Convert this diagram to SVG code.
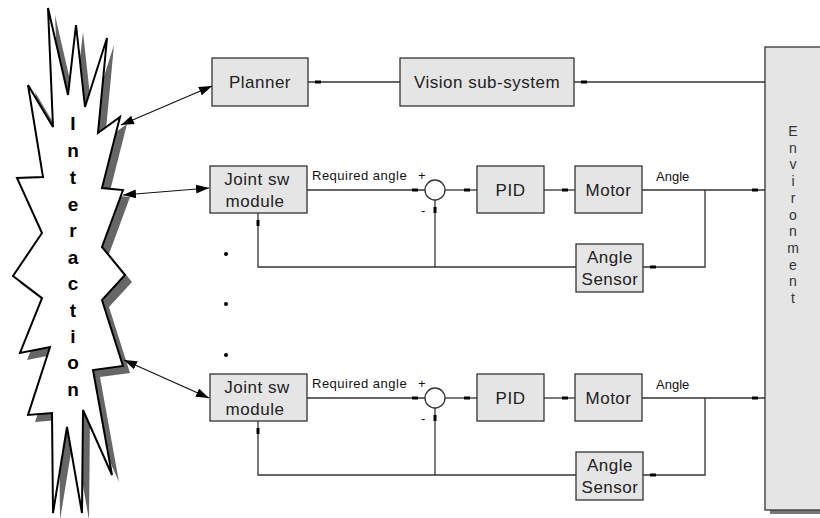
<svg xmlns="http://www.w3.org/2000/svg" width="820" height="518" viewBox="0 0 820 518">
<style>
.box{fill:#e5e5e5;stroke:#333;stroke-width:1.3}
.lbl{font-family:"Liberation Sans",Arial,sans-serif;font-size:17px;fill:#222;text-anchor:middle;letter-spacing:0.5px}
.sm{font-family:"Liberation Sans",Arial,sans-serif;font-size:13px;fill:#111}
.wire{fill:none;stroke:#333;stroke-width:1.3}
.arr{fill:none;stroke:#111;stroke-width:1.2}
.inter{font-family:"Liberation Sans",Arial,sans-serif;font-size:19px;font-weight:bold;fill:#000;text-anchor:middle}
.env{font-family:"Liberation Sans",Arial,sans-serif;font-size:14px;fill:#333;text-anchor:middle}
</style>
<defs>
<marker id="tab" markerUnits="userSpaceOnUse" viewBox="0 0 14 4" markerWidth="14" markerHeight="4" refX="14" refY="2" orient="auto">
<rect x="1" y="0.5" width="6" height="3" fill="#000"/>
</marker>
<marker id="ah" markerUnits="userSpaceOnUse" viewBox="0 0 13 9" markerWidth="13" markerHeight="9" refX="13" refY="4.5" orient="auto-start-reverse">
<path d="M0,0 L13,4.5 L0,9 z" fill="#000"/>
</marker>
</defs>

<g id="interaction">
<polygon transform="translate(7,7)" fill="#666" points="48,8 68,95 76,25 85,107 107,38 98,133 120,117 102,188 123,190 102,247 125,275 102,300 123,366 93,370 112,475 83,410 82,513 67,427 53,513 52,413 28,415 50,347 20,353 42,298 13,276 42,233 17,178 43,177 28,85 53,127"/>
<polygon fill="#fff" stroke="#000" stroke-width="2" stroke-linejoin="miter" points="48,8 68,95 76,25 85,107 107,38 98,133 120,117 102,188 123,190 102,247 125,275 102,300 123,366 93,370 112,475 83,410 82,513 67,427 53,513 52,413 28,415 50,347 20,353 42,298 13,276 42,233 17,178 43,177 28,85 53,127"/>
<text class="inter" x="73" y="130">I</text>
<text class="inter" x="73" y="157">n</text>
<text class="inter" x="73" y="184">t</text>
<text class="inter" x="73" y="211">e</text>
<text class="inter" x="73" y="237">r</text>
<text class="inter" x="73" y="264">a</text>
<text class="inter" x="73" y="290">c</text>
<text class="inter" x="73" y="317">t</text>
<text class="inter" x="73" y="343">i</text>
<text class="inter" x="73" y="369">o</text>
<text class="inter" x="73" y="396">n</text>
</g>

<g id="environment">
<rect x="770" y="509" width="60" height="5" fill="#777"/>
<rect class="box" x="765" y="47" width="70" height="463"/>
<text class="env" x="793" y="136">E</text>
<text class="env" x="793" y="152.7">n</text>
<text class="env" x="793" y="169.4">v</text>
<text class="env" x="793" y="186.1">i</text>
<text class="env" x="793" y="202.8">r</text>
<text class="env" x="793" y="219.5">o</text>
<text class="env" x="793" y="236.2">n</text>
<text class="env" x="793" y="252.9">m</text>
<text class="env" x="793" y="269.6">e</text>
<text class="env" x="793" y="286.3">n</text>
<text class="env" x="793" y="303">t</text>
</g>

<g id="planner"><rect class="box" x="212" y="58" width="96" height="48"/><text class="lbl" x="260" y="88">Planner</text></g>
<g id="vision"><rect class="box" x="400" y="58" width="174" height="48"/><text class="lbl" x="487" y="88">Vision sub-system</text></g>

<g id="joint1"><rect class="box" x="210" y="166" width="97" height="47"/><text class="lbl" x="257" y="185">Joint sw</text><text class="lbl" x="255" y="207">module</text></g>
<g id="sum1"><circle cx="435" cy="190" r="10" fill="#fff" stroke="#333" stroke-width="1.3"/></g>
<g id="pid1"><rect class="box" x="477" y="166" width="67" height="47"/><text class="lbl" x="510.5" y="196">PID</text></g>
<g id="motor1"><rect class="box" x="575" y="166" width="67" height="47"/><text class="lbl" x="608.5" y="196">Motor</text></g>
<g id="sensor1"><rect class="box" x="576" y="244" width="67" height="48"/><text class="lbl" x="610" y="263">Angle</text><text class="lbl" x="610" y="285">Sensor</text></g>

<g id="joint2"><rect class="box" x="210" y="374" width="97" height="47"/><text class="lbl" x="257" y="393">Joint sw</text><text class="lbl" x="255" y="415">module</text></g>
<g id="sum2"><circle cx="435" cy="398" r="10" fill="#fff" stroke="#333" stroke-width="1.3"/></g>
<g id="pid2"><rect class="box" x="477" y="374" width="67" height="47"/><text class="lbl" x="510.5" y="404">PID</text></g>
<g id="motor2"><rect class="box" x="575" y="374" width="67" height="47"/><text class="lbl" x="608.5" y="404">Motor</text></g>
<g id="sensor2"><rect class="box" x="576" y="452" width="67" height="48"/><text class="lbl" x="610" y="471">Angle</text><text class="lbl" x="610" y="493">Sensor</text></g>

<g id="labels">
<text class="sm" x="312" y="180" letter-spacing="0.5">Required angle</text>
<text class="sm" x="418" y="180">+</text>
<text class="sm" x="421" y="215">-</text>
<text class="sm" x="656" y="181">Angle</text>
<text class="sm" x="312" y="388" letter-spacing="0.5">Required angle</text>
<text class="sm" x="418" y="388">+</text>
<text class="sm" x="421" y="423">-</text>
<text class="sm" x="656" y="389">Angle</text>
<circle cx="226" cy="254" r="2" fill="#000"/>
<circle cx="226" cy="304" r="2" fill="#000"/>
<circle cx="226" cy="355" r="2" fill="#000"/>
</g>

<g id="connectors">
<path class="wire" marker-end="url(#tab)" d="M400,82 H308"/>
<path class="wire" marker-end="url(#tab)" d="M765,82 H574"/>

<path class="wire" marker-end="url(#tab)" d="M307,190 H425"/>
<path class="wire" marker-end="url(#tab)" d="M445,190 H477"/>
<path class="wire" marker-end="url(#tab)" d="M544,190 H575"/>
<path class="wire" marker-end="url(#tab)" d="M642,190 H765"/>
<path class="wire" marker-end="url(#tab)" d="M705,190 V267 H643"/>
<path class="wire" marker-end="url(#tab)" d="M576,267 H258 V213"/>
<path class="wire" marker-end="url(#tab)" d="M435,267 V200"/>

<path class="wire" marker-end="url(#tab)" d="M307,398 H425"/>
<path class="wire" marker-end="url(#tab)" d="M445,398 H477"/>
<path class="wire" marker-end="url(#tab)" d="M544,398 H575"/>
<path class="wire" marker-end="url(#tab)" d="M642,398 H765"/>
<path class="wire" marker-end="url(#tab)" d="M705,398 V475 H643"/>
<path class="wire" marker-end="url(#tab)" d="M576,475 H258 V421"/>
<path class="wire" marker-end="url(#tab)" d="M435,475 V408"/>

<path class="arr" marker-start="url(#ah)" marker-end="url(#ah)" d="M121,125 L212,86"/>
<path class="arr" marker-start="url(#ah)" marker-end="url(#ah)" d="M123,195 L209,188"/>
<path class="arr" marker-start="url(#ah)" marker-end="url(#ah)" d="M124,360 L209,398"/>
</g>
</svg>
